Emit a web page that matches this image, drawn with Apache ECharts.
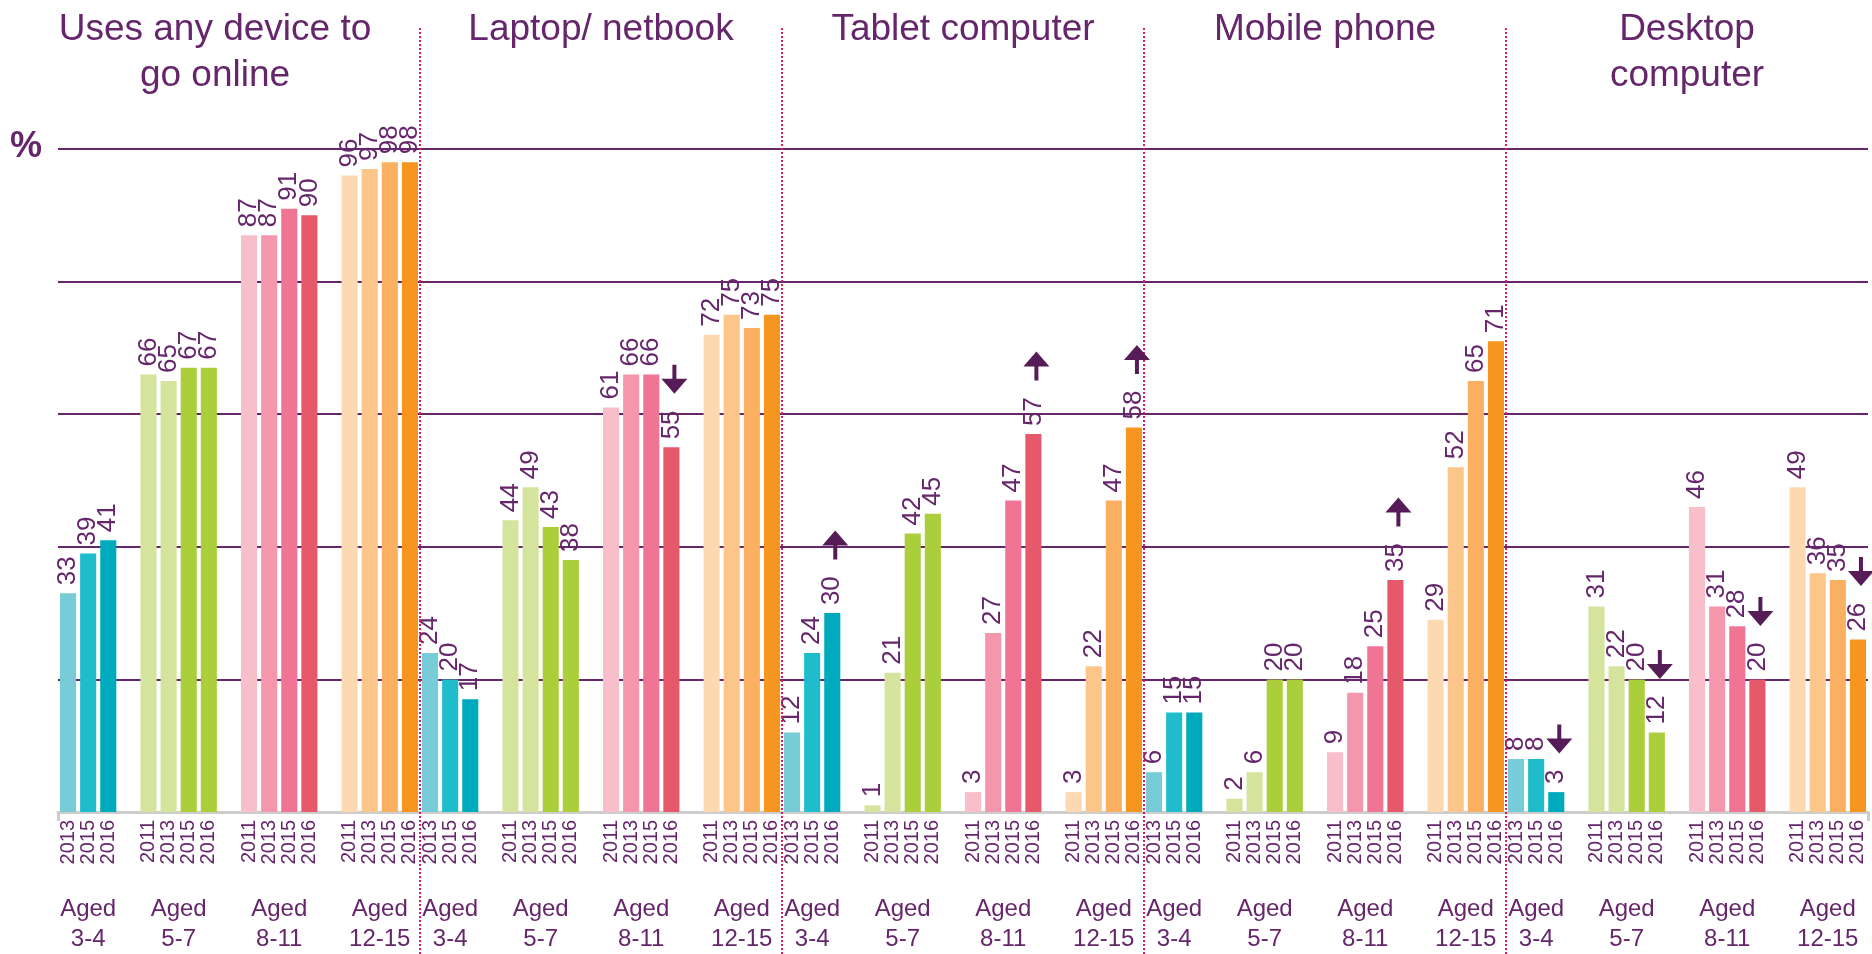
<!DOCTYPE html>
<html>
<head>
<meta charset="utf-8">
<title>Devices used to go online, by age</title>
<script src="https://cdn.jsdelivr.net/npm/echarts@6/dist/echarts.min.js"></script>
<style>
  html, body { margin: 0; padding: 0; background: #fff; }
  #chart { width: 1872px; height: 954px; }
</style>
</head>
<body>
<div id="chart"></div>
<script>
// panels and age groups
const devices = ['Uses any device to\ngo online', 'Laptop/ netbook', 'Tablet computer', 'Mobile phone', 'Desktop\ncomputer']
const ageGroups = ['Aged\n3-4', 'Aged\n5-7', 'Aged\n8-11', 'Aged\n12-15']
const groupYears = [
  ['2013', '2015', '2016'],
  ['2011', '2013', '2015', '2016'],
  ['2011', '2013', '2015', '2016'],
  ['2011', '2013', '2015', '2016']
]

// % per age group, years in the order above
const anyDevice = [[33, 39, 41], [66, 65, 67, 67], [87, 87, 91, 90], [96, 97, 98, 98]]
const laptop = [[24, 20, 17], [44, 49, 43, 38], [61, 66, 66, 55], [72, 75, 73, 75]]
const tablet = [[12, 24, 30], [1, 21, 42, 45], [3, 27, 47, 57], [3, 22, 47, 58]]
const mobile = [[6, 15, 15], [2, 6, 20, 20], [9, 18, 25, 35], [29, 52, 65, 71]]
const desktop = [[8, 8, 3], [31, 22, 20, 12], [46, 31, 28, 20], [49, 36, 35, 26]]

// change 2015 -> 2016 : [panel, age group, direction]
const changes = [
  [1, 2, 'down'],
  [2, 0, 'up'], [2, 2, 'up'], [2, 3, 'up'],
  [3, 2, 'up'],
  [4, 0, 'down'], [4, 1, 'down'], [4, 2, 'down'], [4, 3, 'down']
]

const groupColors = [
  ['#77ccd8', '#1fbdcc', '#00aabd'],
  ['#d4e49c', '#d4e49c', '#aacf3a', '#aacf3a'],
  ['#f8bfcb', '#f497ad', '#f07594', '#e5596a'],
  ['#fdd9b2', '#fcc68a', '#fbb061', '#f6951f']
]

const PURPLE = '#66266b'
const ARROW = '#561c57'
const FONT = 'Liberation Sans, Arial, sans-serif'
const W = 1872
const GRID_LEFT = 58
const GRID_RIGHT = 4
const UP = 'path://M13,0L26,15L15,15L15,29L11,29L11,15L0,15Z'
const DOWN = 'path://M11,0L15,0L15,14L26,14L13,29L0,14L11,14Z'

const deviceData = [anyDevice, laptop, tablet, mobile, desktop]

// one category per bar, a blank one between age groups
let yearCats = []
let barData = []
let barIndex = {}
let groupSpan = []
let panelEnds = []
deviceData.forEach((groups, d) => {
  groups.forEach((vals, g) => {
    if (g > 0) {
      yearCats.push('')
      barData.push('-')
    }
    let start = yearCats.length
    vals.forEach((v, y) => {
      barIndex[d + '-' + g + '-' + y] = yearCats.length
      yearCats.push(groupYears[g][y])
      barData.push({ value: v, itemStyle: { color: groupColors[g][y] } })
    })
    groupSpan.push([start, yearCats.length - 1, g])
  })
  panelEnds.push(yearCats.length)
})
const totalSlots = yearCats.length

// age labels sit on a half-slot axis
let ageCats = new Array(totalSlots * 2 + 1).fill('')
groupSpan.forEach(s => {
  ageCats[s[0] + s[1] + 1] = ageGroups[s[2]]
})

let arrowData = changes.map(c => {
  let vals = deviceData[c[0]][c[1]]
  let last = vals.length - 1
  let v = vals[last]
  return {
    value: [barIndex[c[0] + '-' + c[1] + '-' + last], v],
    symbol: c[2] === 'up' ? UP : DOWN,
    symbolOffset: [3, -(38 + 15 * String(v).length)]
  }
})

const slotW = (W - GRID_LEFT - GRID_RIGHT) / totalSlots
let graphics = devices.map((name, i) => {
  let x0 = i === 0 ? 0 : GRID_LEFT + panelEnds[i - 1] * slotW
  let x1 = GRID_LEFT + panelEnds[i] * slotW
  return {
    type: 'text',
    x: (x0 + x1) / 2 + (i === 0 ? 5 : 0),
    y: 7,
    style: {
      text: name,
      font: '37px ' + FONT,
      lineHeight: 46,
      fill: PURPLE,
      align: 'center',
      textAlign: 'center',
      verticalAlign: 'top',
      textVerticalAlign: 'top'
    }
  }
})
graphics.push({
  type: 'text',
  x: 26,
  y: 147,
  style: {
    text: '%',
    font: 'bold 36px ' + FONT,
    fill: PURPLE,
    align: 'center',
    textAlign: 'center',
    verticalAlign: 'middle',
    textVerticalAlign: 'middle'
  }
})

let chart = echarts.init(document.getElementById('chart'))
let option = {
  animation: false,
  backgroundColor: '#fff',
  textStyle: { fontFamily: FONT },
  graphic: graphics,
  grid: [
    { left: GRID_LEFT, right: GRID_RIGHT, top: 149, bottom: 135 },
    { left: GRID_LEFT, right: GRID_RIGHT, top: 26, bottom: 0 }
  ],
  xAxis: [
    {
      gridIndex: 0,
      type: 'category',
      data: yearCats,
      axisLine: { lineStyle: { color: '#cdcdcd', width: 3 } },
      axisTick: {
        show: true,
        length: 9,
        interval: (idx) => idx === 0,
        lineStyle: { color: '#cdcdcd', width: 3 }
      },
      axisLabel: {
        interval: 0,
        rotate: 90,
        margin: 8,
        fontSize: 20,
        fontFamily: FONT,
        color: PURPLE
      }
    },
    {
      gridIndex: 0,
      type: 'category',
      position: 'bottom',
      boundaryGap: false,
      data: ageCats,
      axisLine: { show: false },
      axisTick: { show: false },
      axisLabel: {
        interval: 0,
        margin: 82,
        fontSize: 24,
        lineHeight: 30,
        fontFamily: FONT,
        color: PURPLE,
        verticalAlign: 'top'
      }
    },
    { gridIndex: 1, type: 'value', min: 0, max: totalSlots, show: false }
  ],
  yAxis: [
    {
      gridIndex: 0,
      type: 'value',
      min: 0,
      max: 100,
      interval: 20,
      axisLabel: { show: false },
      axisLine: { show: false },
      axisTick: { show: false },
      splitLine: { showMinLine: false, lineStyle: { color: PURPLE, width: 2 } }
    },
    { gridIndex: 1, type: 'value', min: 0, max: 1, show: false }
  ],
  series: [
    {
      type: 'bar',
      xAxisIndex: 0,
      yAxisIndex: 0,
      data: barData,
      barCategoryGap: '20%',
      label: {
        show: true,
        position: 'top',
        rotate: 90,
        align: 'left',
        verticalAlign: 'middle',
        distance: 8,
        fontSize: 26,
        fontFamily: FONT,
        color: PURPLE
      }
    },
    {
      type: 'scatter',
      xAxisIndex: 0,
      yAxisIndex: 0,
      symbolSize: [26, 29],
      itemStyle: { color: ARROW, opacity: 1 },
      data: arrowData,
      silent: true,
      z: 5
    },
    {
      // panel separators
      type: 'scatter',
      xAxisIndex: 2,
      yAxisIndex: 1,
      data: [[0, 0]],
      symbolSize: 0,
      silent: true,
      markLine: {
        silent: true,
        symbol: ['none', 'none'],
        label: { show: false },
        lineStyle: { color: '#e0195a', type: 'dotted', width: 2 },
        data: panelEnds.slice(0, -1).map(x => ({ xAxis: x }))
      }
    }
  ]
}
chart.setOption(option)
</script>
</body>
</html>
